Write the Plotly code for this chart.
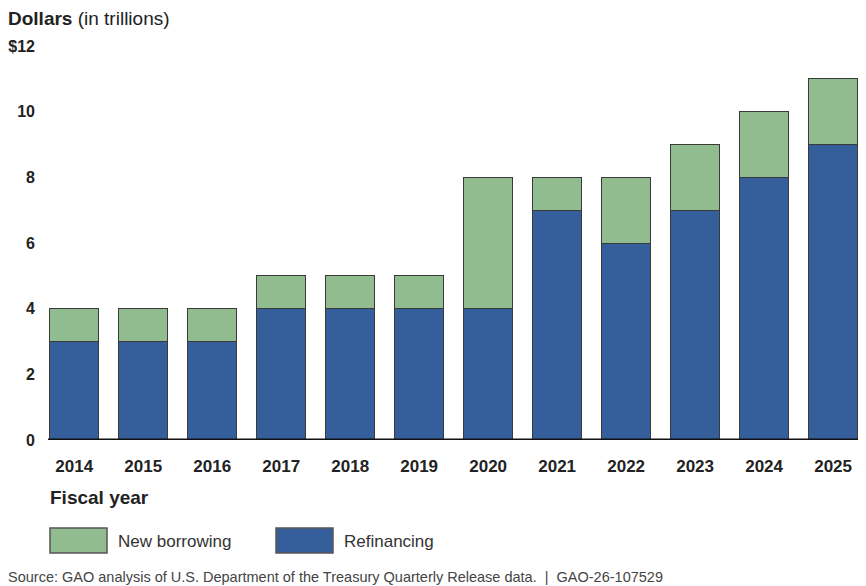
import plotly.graph_objects as go

years = ["2014", "2015", "2016", "2017", "2018", "2019", "2020", "2021", "2022", "2023", "2024", "2025"]
refinancing = [3, 3, 3, 4, 4, 4, 4, 7, 6, 7, 8, 9]
new_borrowing = [1, 1, 1, 1, 1, 1, 4, 1, 2, 2, 2, 2]
y_tickvals = [0, 2, 4, 6, 8, 10, 12]
y_ticktext = ["0", "2", "4", "6", "8", "10", "$12"]

BLUE = "#345f9b"
GREEN = "#91bc8f"
EDGE = "#3a3a3a"
FONT = "Liberation Sans, Arial, sans-serif"

# page has an 8px body margin; the figure is sized so the plot area sits at
# page x 48..860, y 46..440
W, H = 858, 578
PL, PR, PT, PB = 48, 860, 46, 440
PW, PH = PR - PL, PB - PT


def px(page_x):
    return (page_x - PL) / PW


def py(page_y):
    return (PB - page_y) / PH


fig = go.Figure()
fig.add_trace(go.Bar(x=years, y=refinancing, name="Refinancing",
                     marker=dict(color=BLUE, line=dict(color=EDGE, width=1)), width=0.71, showlegend=False))
fig.add_trace(go.Bar(x=years, y=new_borrowing, name="New borrowing",
                     marker=dict(color=GREEN, line=dict(color=EDGE, width=1)), width=0.71, showlegend=False))

fig.update_layout(
    barmode="stack",
    width=W, height=H,
    margin=dict(l=PL - 8, r=W - (PR - 8), t=PT - 8, b=H - (PB - 8)),
    plot_bgcolor="white", paper_bgcolor="white",
    font=dict(family=FONT, color="#222222"),
    xaxis=dict(type="category", range=[-0.38, 11.39], showgrid=False, ticks="", showline=False, automargin=False,
               tickfont=dict(size=17, family=FONT, color="#222222", weight="bold"), ticklabelstandoff=14),
    yaxis=dict(range=[0, 12], tickvals=y_tickvals, ticktext=y_ticktext, showgrid=False, zeroline=False,
               showline=False, ticks="", automargin=False,
               tickfont=dict(size=16, family=FONT, color="#222222", weight="bold"),
               ticklabelstandoff=12),
)

# baseline
fig.add_shape(type="line", xref="paper", yref="y", x0=0, x1=1, y0=0, y1=0, line=dict(color="#111111", width=3))

# titles
fig.add_annotation(xref="paper", yref="paper", x=px(6), y=py(18), xanchor="left", yanchor="middle",
                   text="<b>Dollars</b> (in trillions)", showarrow=False, font=dict(size=19, color="#222222"))
fig.add_annotation(xref="paper", yref="paper", x=px(48), y=py(497), xanchor="left", yanchor="middle",
                   text="<b>Fiscal year</b>", showarrow=False, font=dict(size=19, color="#222222"))


# legend (manual)
def legend_item(x0_page, text, color):
    fig.add_shape(type="rect", xref="paper", yref="paper",
                  x0=px(x0_page), x1=px(x0_page + 57), y0=py(553), y1=py(528),
                  fillcolor=color, line=dict(color="#555555", width=1.5))
    fig.add_annotation(xref="paper", yref="paper", x=px(x0_page + 66), y=py(541),
                       xanchor="left", yanchor="middle", text=text, showarrow=False,
                       font=dict(size=17, color="#333333"))


legend_item(50, "New borrowing", GREEN)
legend_item(276, "Refinancing", BLUE)

fig.add_annotation(xref="paper", yref="paper", x=px(6), y=py(577), xanchor="left", yanchor="middle",
                   text="Source: GAO analysis of U.S. Department of the Treasury Quarterly Release data.  |  GAO-26-107529",
                   showarrow=False, font=dict(size=14.5, color="#444444"))

fig.write_html("out.html")
